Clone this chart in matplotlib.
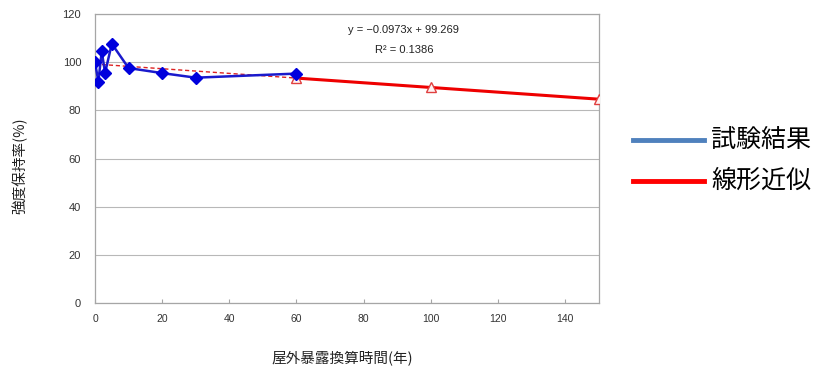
import matplotlib.pyplot as plt
import numpy as np

jp = ['Noto Sans CJK JP', 'DejaVu Sans']
plt.rcParams['font.family'] = ['Liberation Sans', 'DejaVu Sans']

# measured data (試験結果)
test_x = [0, 1, 2, 3, 5, 10, 20, 30, 60]
test_y = [100.0, 92.0, 104.5, 95.6, 107.7, 97.6, 95.5, 93.6, 95.3]

# linear fit y = -0.0973x + 99.269
slope = -0.0973
intercept = 99.269
fit_x = [60, 100, 150]
dash_x = [0, 60]

legend_labels = ['試験結果', '線形近似']
legend_colors = ['#4f81bd', '#ff0000']

fig = plt.figure(figsize=(8.19, 3.72), dpi=100)
ax = fig.add_axes([0.116, 0.1855, 0.615, 0.7765])

fit_y = [slope * x + intercept for x in fit_x]
dash_y = [slope * x + intercept for x in dash_x]

ax.plot(dash_x, dash_y, color='#dd2222', lw=1.0, ls=(0, (3, 2)), zorder=2)
ax.plot(fit_x, fit_y, color='#ee0000', lw=2.2, zorder=3,
        marker='^', ms=7, mfc='#fff4f4', mec='#e04040', mew=1.0)
ax.plot(test_x, test_y, color='#1a1acc', lw=1.8, zorder=4,
        marker='D', ms=6, mfc='#0000dd', mec='#0000dd')

ax.set_xlim(0, 150)
ax.set_ylim(0, 120)
ax.set_xticks(np.arange(0, 150, 20))
ax.set_yticks(np.arange(0, 121, 20))
ax.yaxis.grid(True, color='#b8b8b8', lw=0.8)
ax.set_axisbelow(True)
for s in ax.spines.values():
    s.set_color('#a6a6a6')
    s.set_linewidth(0.9)
ax.tick_params(axis='x', direction='in', length=3, color='#a6a6a6',
               labelsize=7.5, labelcolor='#333333', pad=8)
ax.tick_params(axis='y', length=0, labelsize=8, labelcolor='#333333', pad=10)

ax.text(92, 113.5, 'y = \u22120.0973x + 99.269', ha='center', va='center',
        fontsize=8, color='#222222')
ax.text(92, 105, 'R² = 0.1386', ha='center', va='center',
        fontsize=8, color='#222222')

fig.text(20 / 819, 1 - 166 / 372, '強度保持率(%)', rotation=90, ha='center',
         va='center', fontsize=10.5, family=jp, color='#222222')
fig.text(342 / 819, 1 - 358 / 372, '屋外暴露換算時間(年)', ha='center',
         va='center', fontsize=10.5, family=jp, color='#222222')

# legend drawn outside on the right
for i, (lab, col) in enumerate(zip(legend_labels, legend_colors)):
    yy = 1 - (140 + 41 * i) / 372
    fig.add_artist(plt.Line2D([633 / 819, 704 / 819], [yy, yy], color=col, lw=3.5))
    fig.text(711 / 819, yy, lab, ha='left', va='center', fontsize=18, family=jp)

fig.savefig('out.png', dpi=100)
